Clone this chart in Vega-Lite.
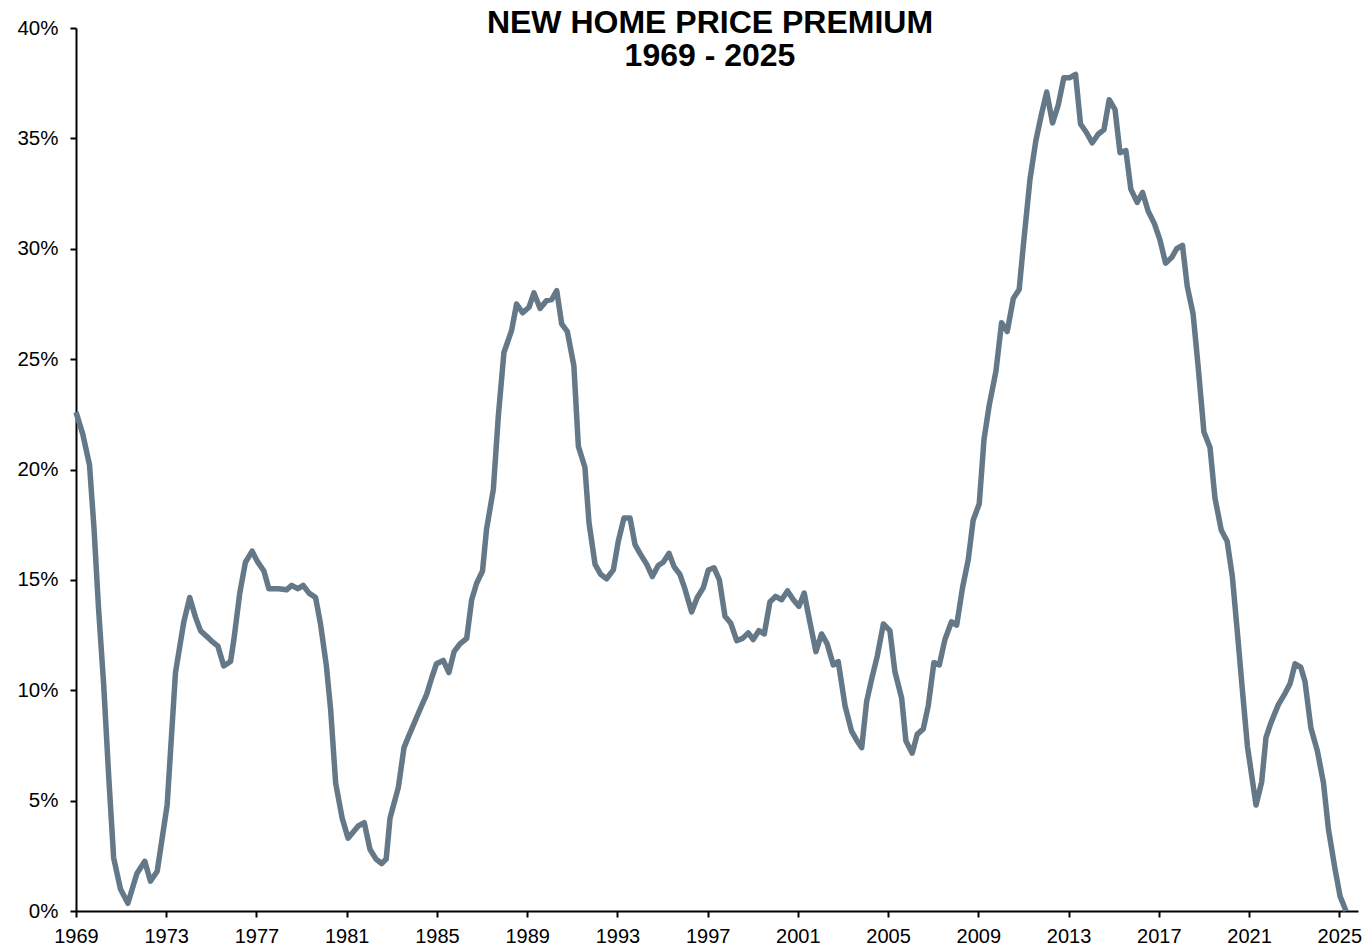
{
  "$schema": "https://vega.github.io/schema/vega-lite/v6.json",
  "autosize": {"type": "none"},
  "padding": {"left": 76, "top": 28, "right": 12, "bottom": 38},
  "width": 1282,
  "height": 883,
  "background": "white",
  "title": {
    "text": ["NEW HOME PRICE PREMIUM", "1969 - 2025"],
    "font": "Liberation Sans",
    "fontSize": 32,
    "fontWeight": "bold",
    "lineHeight": 33,
    "color": "black",
    "anchor": "middle",
    "frame": "group",
    "dx": -7,
    "offset": -55
  },
  "data": {
    "values": [
      {"year": 1969.00, "premium": 22.6},
      {"year": 1969.30, "premium": 21.6},
      {"year": 1969.60, "premium": 20.2},
      {"year": 1969.80, "premium": 17.3},
      {"year": 1970.00, "premium": 13.7},
      {"year": 1970.23, "premium": 10.2},
      {"year": 1970.45, "premium": 6.1},
      {"year": 1970.67, "premium": 2.4},
      {"year": 1970.97, "premium": 1.0},
      {"year": 1971.30, "premium": 0.35},
      {"year": 1971.70, "premium": 1.7},
      {"year": 1972.05, "premium": 2.25},
      {"year": 1972.30, "premium": 1.35},
      {"year": 1972.60, "premium": 1.8},
      {"year": 1973.04, "premium": 4.8},
      {"year": 1973.41, "premium": 10.8},
      {"year": 1973.78, "premium": 13.1},
      {"year": 1974.04, "premium": 14.2},
      {"year": 1974.30, "premium": 13.3},
      {"year": 1974.52, "premium": 12.7},
      {"year": 1974.89, "premium": 12.35},
      {"year": 1975.04, "premium": 12.2},
      {"year": 1975.29, "premium": 12.0},
      {"year": 1975.55, "premium": 11.1},
      {"year": 1975.85, "premium": 11.3},
      {"year": 1976.00, "premium": 12.3},
      {"year": 1976.26, "premium": 14.4},
      {"year": 1976.51, "premium": 15.8},
      {"year": 1976.81, "premium": 16.3},
      {"year": 1977.03, "premium": 15.85},
      {"year": 1977.33, "premium": 15.4},
      {"year": 1977.55, "premium": 14.6},
      {"year": 1977.99, "premium": 14.6},
      {"year": 1978.33, "premium": 14.55},
      {"year": 1978.56, "premium": 14.75},
      {"year": 1978.84, "premium": 14.6},
      {"year": 1979.07, "premium": 14.75},
      {"year": 1979.33, "premium": 14.4},
      {"year": 1979.62, "premium": 14.2},
      {"year": 1979.84, "premium": 13.0},
      {"year": 1980.10, "premium": 11.1},
      {"year": 1980.29, "premium": 9.1},
      {"year": 1980.51, "premium": 5.8},
      {"year": 1980.80, "premium": 4.2},
      {"year": 1981.06, "premium": 3.3},
      {"year": 1981.51, "premium": 3.85},
      {"year": 1981.78, "premium": 4.0},
      {"year": 1982.03, "premium": 2.8},
      {"year": 1982.30, "premium": 2.35},
      {"year": 1982.55, "premium": 2.15},
      {"year": 1982.75, "premium": 2.35},
      {"year": 1982.92, "premium": 4.2},
      {"year": 1983.29, "premium": 5.6},
      {"year": 1983.54, "premium": 7.4},
      {"year": 1983.78, "premium": 8.0},
      {"year": 1984.03, "premium": 8.6},
      {"year": 1984.32, "premium": 9.3},
      {"year": 1984.54, "premium": 9.8},
      {"year": 1984.78, "premium": 10.6},
      {"year": 1984.98, "premium": 11.2},
      {"year": 1985.28, "premium": 11.35},
      {"year": 1985.53, "premium": 10.8},
      {"year": 1985.76, "premium": 11.75},
      {"year": 1986.02, "premium": 12.1},
      {"year": 1986.32, "premium": 12.35},
      {"year": 1986.54, "premium": 14.1},
      {"year": 1986.76, "premium": 14.85},
      {"year": 1987.02, "premium": 15.4},
      {"year": 1987.20, "premium": 17.3},
      {"year": 1987.50, "premium": 19.1},
      {"year": 1987.72, "premium": 22.4},
      {"year": 1987.97, "premium": 25.3},
      {"year": 1988.31, "premium": 26.3},
      {"year": 1988.53, "premium": 27.5},
      {"year": 1988.80, "premium": 27.1},
      {"year": 1989.08, "premium": 27.35},
      {"year": 1989.30, "premium": 28.0},
      {"year": 1989.57, "premium": 27.3},
      {"year": 1989.86, "premium": 27.65},
      {"year": 1990.09, "premium": 27.7},
      {"year": 1990.31, "premium": 28.1},
      {"year": 1990.53, "premium": 26.6},
      {"year": 1990.78, "premium": 26.25},
      {"year": 1991.07, "premium": 24.7},
      {"year": 1991.27, "premium": 21.05},
      {"year": 1991.56, "premium": 20.1},
      {"year": 1991.74, "premium": 17.6},
      {"year": 1992.01, "premium": 15.7},
      {"year": 1992.26, "premium": 15.25},
      {"year": 1992.52, "premium": 15.05},
      {"year": 1992.82, "premium": 15.45},
      {"year": 1993.04, "premium": 16.75},
      {"year": 1993.29, "premium": 17.8},
      {"year": 1993.56, "premium": 17.8},
      {"year": 1993.78, "premium": 16.6},
      {"year": 1994.00, "premium": 16.2},
      {"year": 1994.30, "premium": 15.7},
      {"year": 1994.55, "premium": 15.15},
      {"year": 1994.81, "premium": 15.65},
      {"year": 1995.03, "premium": 15.8},
      {"year": 1995.29, "premium": 16.2},
      {"year": 1995.51, "premium": 15.6},
      {"year": 1995.77, "premium": 15.25},
      {"year": 1995.99, "premium": 14.6},
      {"year": 1996.29, "premium": 13.55},
      {"year": 1996.54, "premium": 14.2},
      {"year": 1996.81, "premium": 14.65},
      {"year": 1997.03, "premium": 15.45},
      {"year": 1997.28, "premium": 15.55},
      {"year": 1997.52, "premium": 15.0},
      {"year": 1997.77, "premium": 13.35},
      {"year": 1998.02, "premium": 13.05},
      {"year": 1998.29, "premium": 12.25},
      {"year": 1998.55, "premium": 12.35},
      {"year": 1998.80, "premium": 12.6},
      {"year": 1999.02, "premium": 12.3},
      {"year": 1999.27, "premium": 12.7},
      {"year": 1999.51, "premium": 12.55},
      {"year": 1999.76, "premium": 14.0},
      {"year": 2000.01, "premium": 14.25},
      {"year": 2000.28, "premium": 14.1},
      {"year": 2000.54, "premium": 14.5},
      {"year": 2000.80, "premium": 14.1},
      {"year": 2001.05, "premium": 13.8},
      {"year": 2001.28, "premium": 14.4},
      {"year": 2001.54, "premium": 13.05},
      {"year": 2001.80, "premium": 11.75},
      {"year": 2002.05, "premium": 12.55},
      {"year": 2002.30, "premium": 12.1},
      {"year": 2002.57, "premium": 11.15},
      {"year": 2002.79, "premium": 11.3},
      {"year": 2003.09, "premium": 9.3},
      {"year": 2003.38, "premium": 8.15},
      {"year": 2003.60, "premium": 7.75},
      {"year": 2003.83, "premium": 7.4},
      {"year": 2004.05, "premium": 9.5},
      {"year": 2004.27, "premium": 10.5},
      {"year": 2004.52, "premium": 11.55},
      {"year": 2004.79, "premium": 13.0},
      {"year": 2005.08, "premium": 12.7},
      {"year": 2005.30, "premium": 10.85},
      {"year": 2005.60, "premium": 9.65},
      {"year": 2005.79, "premium": 7.7},
      {"year": 2006.07, "premium": 7.15},
      {"year": 2006.29, "premium": 8.0},
      {"year": 2006.56, "premium": 8.25},
      {"year": 2006.78, "premium": 9.3},
      {"year": 2007.03, "premium": 11.25},
      {"year": 2007.27, "premium": 11.15},
      {"year": 2007.52, "premium": 12.3},
      {"year": 2007.81, "premium": 13.1},
      {"year": 2008.04, "premium": 12.95},
      {"year": 2008.30, "premium": 14.65},
      {"year": 2008.55, "premium": 15.9},
      {"year": 2008.77, "premium": 17.7},
      {"year": 2009.04, "premium": 18.45},
      {"year": 2009.25, "premium": 21.35},
      {"year": 2009.48, "premium": 22.9},
      {"year": 2009.78, "premium": 24.45},
      {"year": 2010.03, "premium": 26.65},
      {"year": 2010.28, "premium": 26.25},
      {"year": 2010.55, "premium": 27.75},
      {"year": 2010.81, "premium": 28.15},
      {"year": 2010.99, "premium": 30.1},
      {"year": 2011.29, "premium": 33.15},
      {"year": 2011.55, "premium": 34.9},
      {"year": 2011.80, "premium": 36.1},
      {"year": 2012.03, "premium": 37.1},
      {"year": 2012.29, "premium": 35.7},
      {"year": 2012.54, "premium": 36.5},
      {"year": 2012.79, "premium": 37.75},
      {"year": 2013.06, "premium": 37.75},
      {"year": 2013.31, "premium": 37.9},
      {"year": 2013.53, "premium": 35.65},
      {"year": 2013.77, "premium": 35.3},
      {"year": 2014.05, "premium": 34.8},
      {"year": 2014.32, "premium": 35.2},
      {"year": 2014.57, "premium": 35.4},
      {"year": 2014.80, "premium": 36.75},
      {"year": 2015.06, "premium": 36.3},
      {"year": 2015.28, "premium": 34.35},
      {"year": 2015.54, "premium": 34.45},
      {"year": 2015.76, "premium": 32.7},
      {"year": 2016.04, "premium": 32.1},
      {"year": 2016.28, "premium": 32.55},
      {"year": 2016.53, "premium": 31.7},
      {"year": 2016.80, "premium": 31.15},
      {"year": 2017.05, "premium": 30.4},
      {"year": 2017.30, "premium": 29.35},
      {"year": 2017.57, "premium": 29.6},
      {"year": 2017.79, "premium": 30.0},
      {"year": 2018.05, "premium": 30.15},
      {"year": 2018.26, "premium": 28.3},
      {"year": 2018.52, "premium": 27.05},
      {"year": 2018.75, "premium": 24.6},
      {"year": 2019.00, "premium": 21.7},
      {"year": 2019.27, "premium": 21.0},
      {"year": 2019.49, "premium": 18.7},
      {"year": 2019.77, "premium": 17.25},
      {"year": 2020.03, "premium": 16.75},
      {"year": 2020.26, "premium": 15.15},
      {"year": 2020.48, "premium": 12.65},
      {"year": 2020.71, "premium": 9.95},
      {"year": 2020.93, "premium": 7.45},
      {"year": 2021.31, "premium": 4.8},
      {"year": 2021.56, "premium": 5.85},
      {"year": 2021.75, "premium": 7.85},
      {"year": 2021.96, "premium": 8.5},
      {"year": 2022.30, "premium": 9.35},
      {"year": 2022.59, "premium": 9.85},
      {"year": 2022.82, "premium": 10.3},
      {"year": 2023.04, "premium": 11.2},
      {"year": 2023.29, "premium": 11.05},
      {"year": 2023.48, "premium": 10.4},
      {"year": 2023.74, "premium": 8.3},
      {"year": 2024.03, "premium": 7.25},
      {"year": 2024.30, "premium": 5.8},
      {"year": 2024.52, "premium": 3.7},
      {"year": 2024.82, "premium": 1.85},
      {"year": 2025.04, "premium": 0.65},
      {"year": 2025.30, "premium": 0.0}
    ]
  },
  "mark": {
    "type": "line",
    "color": "#647887",
    "strokeWidth": 5.5,
    "strokeJoin": "round",
    "clip": false
  },
  "encoding": {
    "x": {
      "field": "year",
      "type": "quantitative",
      "scale": {"domain": [1969, 2025.83], "nice": false, "zero": false},
      "axis": {
        "title": null,
        "values": [1969, 1973, 1977, 1981, 1985, 1989, 1993, 1997, 2001, 2005, 2009, 2013, 2017, 2021, 2025],
        "format": "d",
        "grid": false,
        "domainColor": "black",
        "domainWidth": 2,
        "tickColor": "black",
        "tickWidth": 2,
        "tickSize": 6,
        "labelFont": "Liberation Sans",
        "labelFontSize": 20,
        "labelColor": "black",
        "labelPadding": 9,
        "labelFlush": false,
        "labelOverlap": false
      }
    },
    "y": {
      "field": "premium",
      "type": "quantitative",
      "scale": {"domain": [0, 40], "nice": false},
      "axis": {
        "title": null,
        "values": [0, 5, 10, 15, 20, 25, 30, 35, 40],
        "labelExpr": "datum.value + '%'",
        "grid": false,
        "domainColor": "black",
        "domainWidth": 2,
        "tickColor": "black",
        "tickWidth": 2,
        "tickSize": 6,
        "labelFont": "Liberation Sans",
        "labelFontSize": 20.5,
        "labelColor": "black",
        "labelPadding": 12,
        "labelFlush": false,
        "labelOverlap": false
      }
    }
  },
  "config": {"view": {"stroke": null}}
}
